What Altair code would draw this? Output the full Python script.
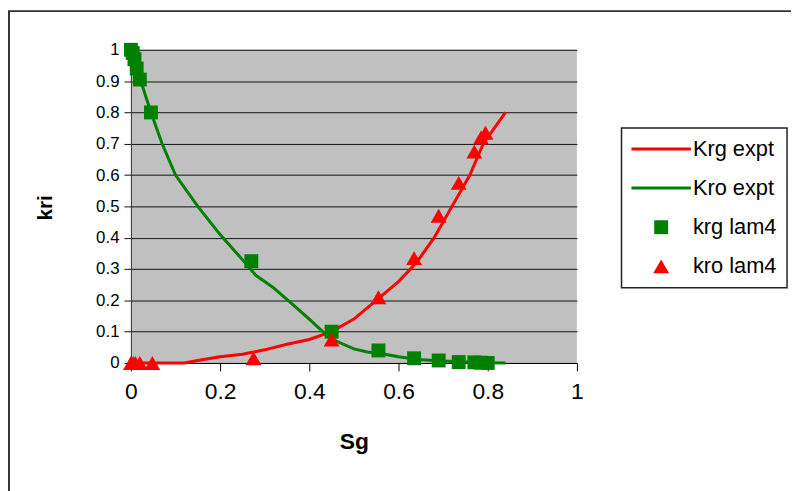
import altair as alt
import pandas as pd

# ---- data ----
series_names = ["Krg expt", "Kro expt", "krg lam4", "kro lam4"]
series_colors = ["#FF0000", "#008000", "#008000", "#FF0000"]

krg_expt_sg = [0, 0.05, 0.1, 0.12, 0.15, 0.2, 0.25, 0.3, 0.35, 0.4, 0.45, 0.5, 0.55,
               0.6, 0.64, 0.68, 0.72, 0.76, 0.79, 0.84]
krg_expt_kr = [0, 0, 0, 0, 0.008, 0.02, 0.028, 0.042, 0.06, 0.075, 0.10, 0.14, 0.20,
               0.26, 0.32, 0.40, 0.50, 0.60, 0.70, 0.80]

kro_expt_sg = [0, 0.01, 0.02, 0.045, 0.07, 0.1, 0.15, 0.2, 0.25, 0.28, 0.32, 0.36, 0.4,
               0.43, 0.46, 0.5, 0.53, 0.56, 0.6, 0.65, 0.7, 0.75, 0.8, 0.84]
kro_expt_kr = [1.0, 0.96, 0.91, 0.80, 0.70, 0.60, 0.50, 0.41, 0.33, 0.28, 0.24, 0.19, 0.14,
               0.10, 0.07, 0.045, 0.035, 0.03, 0.02, 0.01, 0.006, 0.003, 0.001, 0.0]

krg_lam4_sg = [0, 0.004, 0.008, 0.013, 0.02, 0.045, 0.27, 0.45, 0.555, 0.635, 0.69,
               0.735, 0.77, 0.785, 0.80]
krg_lam4_kr = [1.0, 0.99, 0.97, 0.94, 0.905, 0.80, 0.325, 0.10, 0.04, 0.015, 0.008,
               0.003, 0.002, 0.001, 0.0]

kro_lam4_sg = [0, 0.005, 0.01, 0.02, 0.048, 0.275, 0.45, 0.555, 0.635, 0.69, 0.735,
               0.77, 0.785, 0.795]
kro_lam4_kr = [0, 0, 0, 0, 0, 0.015, 0.075, 0.21, 0.335, 0.47, 0.575, 0.675, 0.72, 0.735]

x_ticks = [0, 0.2, 0.4, 0.6, 0.8, 1]
y_ticks = [0, 0.1, 0.2, 0.3, 0.4, 0.5, 0.6, 0.7, 0.8, 0.9, 1]

# ---- tables ----
lines_df = pd.concat([
    pd.DataFrame({"Sg": krg_expt_sg, "kri": krg_expt_kr, "series": "Krg expt"}),
    pd.DataFrame({"Sg": kro_expt_sg, "kri": kro_expt_kr, "series": "Kro expt"}),
])
points_df = pd.concat([
    pd.DataFrame({"Sg": krg_lam4_sg, "kri": krg_lam4_kr, "series": "krg lam4"}),
    pd.DataFrame({"Sg": kro_lam4_sg, "kri": kro_lam4_kr, "series": "kro lam4"}),
])

LINE_PATH = "M-3,-0.15H3V0.15H-3Z"
SQUARE_PATH = "M-0.7,-0.7H0.7V0.7H-0.7Z"
TRI_PATH = "M0,-0.7L0.8,0.7H-0.8Z"

color_scale = alt.Scale(domain=series_names, range=series_colors)
shape_scale = alt.Scale(domain=series_names,
                        range=[LINE_PATH, LINE_PATH, SQUARE_PATH, TRI_PATH])

legend = alt.Legend(
    title=None, orient="none", legendX=495, legendY=79,
    labelFont="Liberation Sans", labelFontSize=22, labelColor="black",
    labelLimit=300, padding=10, symbolOffset=19, labelOffset=21,
    rowPadding=17.5, symbolSize=400, symbolOpacity=1, symbolStrokeWidth=0,
    fillColor="white", strokeColor="#222",
)

x_enc = alt.X("Sg:Q", scale=alt.Scale(domain=[0, 1], nice=False),
              axis=alt.Axis(values=x_ticks, format="~g", title="Sg", grid=False,
                            labelFontSize=23, labelFont="Liberation Sans",
                            labelColor="black", tickColor="black", tickSize=8,
                            domainColor="black", labelPadding=10,
                            labelFlush=False, labelOverlap=False,
                            titleFont="Liberation Sans", titleFontSize=23,
                            titleFontWeight="bold", titleColor="black",
                            titleX=225, titleY=79, titleBaseline="middle",
                            titleAlign="center"))
y_enc = alt.Y("kri:Q", scale=alt.Scale(domain=[0, 1], nice=False),
              axis=alt.Axis(values=y_ticks, format="~g", title="kri", grid=True,
                            gridColor="#111", gridWidth=1, gridOpacity=1,
                            labelFontSize=17, labelFont="Liberation Sans",
                            labelColor="black", tickColor="#111", tickSize=7,
                            domainColor="#333", labelPadding=5,
                            labelFlush=False, labelOverlap=False,
                            titleFont="Liberation Sans", titleFontSize=21,
                            titleFontWeight="bold", titleColor="black",
                            titleX=-86, titleY=159, titleBaseline="middle",
                            titleAlign="center", titleAngle=-90))

frame = alt.Chart(pd.DataFrame({"a": [0]})).mark_rect(
    fillOpacity=0, stroke="#333", strokeWidth=2
).encode(x=alt.value(-123), x2=alt.value(700), y=alt.value(-39), y2=alt.value(470))

lines = alt.Chart(lines_df).mark_line(strokeWidth=3).encode(
    x=x_enc, y=y_enc,
    color=alt.Color("series:N", scale=color_scale, legend=legend),
)

points = alt.Chart(points_df).mark_point(filled=True, size=400, opacity=1).encode(
    x=x_enc, y=y_enc,
    color=alt.Color("series:N", scale=color_scale, legend=legend),
    shape=alt.Shape("series:N", scale=shape_scale, legend=legend),
)

chart = alt.layer(frame, lines, points).properties(
    width=450, height=316,
    autosize=alt.AutoSizeParams(type="none"),
    padding={"left": 124, "top": 40, "right": 216, "bottom": 127},
    background="white",
).configure_view(
    fill="#C0C0C0", stroke=None
).configure_legend(strokeWidth=1.5, cornerRadius=0)

chart.save("out.html", embed_options={"renderer": "svg", "actions": False})
